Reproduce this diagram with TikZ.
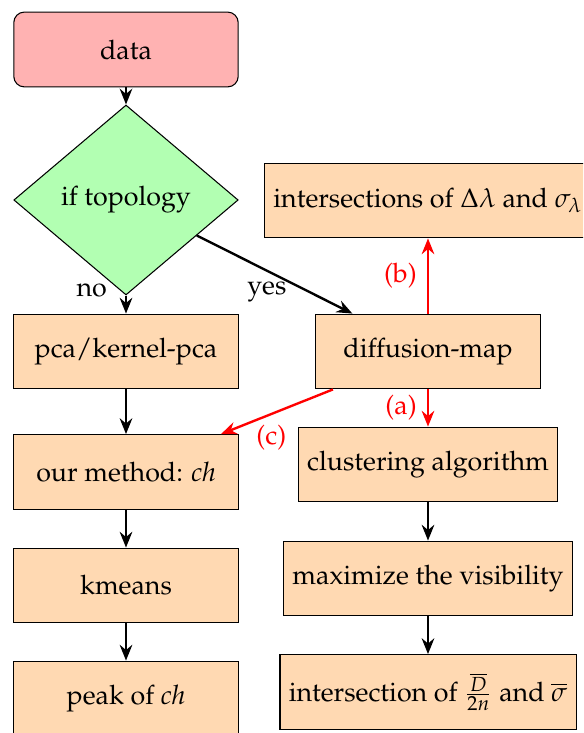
\documentclass[tikz,border=0pt]{standalone}
\usepackage[T1]{fontenc}
\usepackage{mathpazo}
\usetikzlibrary{shapes.geometric,arrows.meta}

\tikzset{
  every node/.style={font=\fontsize{10.2pt}{12pt}\selectfont},
  box/.style={rectangle, draw=black, fill=orange!30, minimum width=3cm, minimum height=1cm, align=center},
  startbox/.style={rectangle, rounded corners=4pt, draw=black, fill=red!30, minimum width=3cm, minimum height=1cm},
  decision/.style={diamond, draw=black, fill=green!30, minimum width=3cm, minimum height=2.54cm, inner sep=0pt, aspect=1.2},
  flow/.style={draw=black, line width=0.9pt, -{Stealth[length=6pt,width=4.8pt,inset=2pt]}},
  redflow/.style={draw=red, line width=0.9pt, -{Stealth[length=6pt,width=4.8pt,inset=2pt]}},
  redlabel/.style={text=red}
}

\begin{document}
\begin{tikzpicture}[x=0.3804pt, y=-0.3804pt]
  \useasboundingbox (0,0) rectangle (583,733);
  \clip (0,0) rectangle (583,733);

  % left column
  \node[startbox] (data) at (126,49.5) {data};
  \node[decision] (topo) at (126,200) {if topology};
  \node[box] (pca) at (126,351.5) {pca/kernel-pca};
  \node[box] (ours) at (126,472) {our method: \textit{ch}};
  \node[box] (km) at (126,585.5) {kmeans};
  \node[box] (peak) at (126,698.5) {peak of \textit{ch}};

  % right column
  \node[box] (isect) at (428,200.5) {intersections of $\Delta\lambda$ and $\sigma_\lambda$};
  \node[box] (diff) at (428,351.5) {diffusion-map};
  \node[box] (clust) at (428,464.5) {clustering algorithm};
  \node[box] (vis) at (428,578.5) {maximize the visibility};
  \node[box] (isect2) at (428,692) {intersection of $\frac{\overline{D}}{2n}$ and $\overline{\sigma}$};

  % black connectors
  \draw[flow] (data) -- (topo);
  \draw[flow] (topo) -- node[pos=0, left=3.5pt, yshift=2pt] {no} (pca);
  \draw[flow] (topo) -- node[pos=0.45, below=0.5pt] {yes} (diff);
  \draw[flow] (pca) -- (ours);
  \draw[flow] (ours) -- (km);
  \draw[flow] (km) -- (peak);
  \draw[flow] (clust) -- (vis);
  \draw[flow] (vis) -- (isect2);

  % red connectors
  \draw[redflow] (diff) -- node[redlabel, left=0.5pt] {(a)} (clust);
  \draw[redflow] (diff) -- node[redlabel, left=0.5pt] {(b)} (isect);
  \draw[redflow] (diff) -- node[redlabel, pos=0.55, below=0.5pt] {(c)} (ours);
\end{tikzpicture}
\end{document}
